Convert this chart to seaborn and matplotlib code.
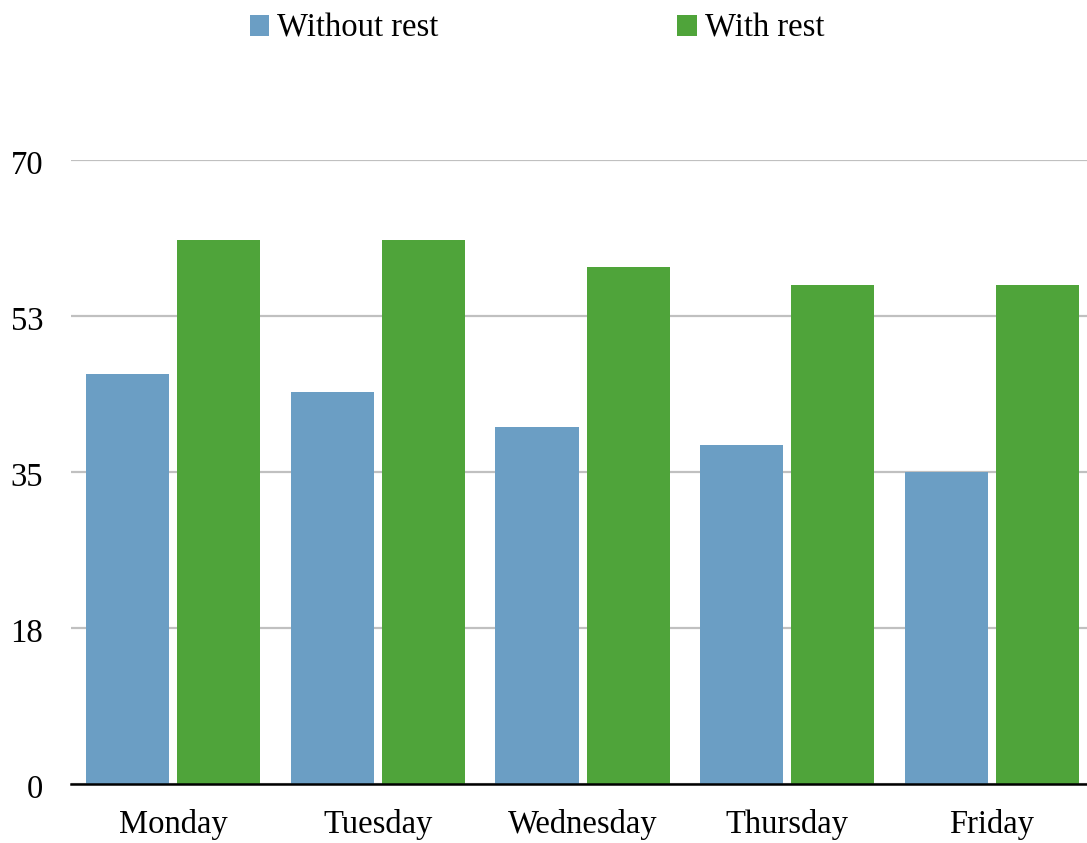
import matplotlib
matplotlib.use("Agg")
import matplotlib.pyplot as plt
import seaborn as sns
import pandas as pd
from matplotlib.patches import Patch

days = ["Monday", "Tuesday", "Wednesday", "Thursday", "Friday"]
series_names = ["Without rest", "With rest"]
without_rest = [46, 44, 40, 38, 35]
with_rest = [61, 61, 58, 56, 56]
ytick_values = [0, 17.5, 35, 52.5, 70]
ytick_labels = ["0", "18", "35", "53", "70"]
colors = ["#6b9ec4", "#4fa43a"]

df = pd.DataFrame({
    "day": days * 2,
    "series": [series_names[0]] * len(days) + [series_names[1]] * len(days),
    "value": without_rest + with_rest,
})

sns.set_theme(style="white")
plt.rcParams["font.family"] = ["Liberation Serif", "DejaVu Serif"]
plt.rcParams["text.color"] = "black"

W, H = 1087, 843
fig = plt.figure(figsize=(W / 100, H / 100), dpi=100)
left_px, right_px, bottom_px, top_px = 71, 1087, 784, 160
ax = fig.add_axes([left_px / W, (H - bottom_px) / H,
                   (right_px - left_px) / W, (bottom_px - top_px) / H])

sns.barplot(data=df, x="day", y="value", hue="series", order=days,
            hue_order=series_names, palette=colors, width=0.89, gap=0.088,
            saturation=1, legend=False, linewidth=0, edgecolor="none", ax=ax)

ax.set_ylim(0, 70)
ax.set_xlim(-0.5, 4.5 - (1094 - 1087) / 204.0)
ax.set_yticks(ytick_values)
ax.set_yticklabels(ytick_labels)
ax.set_xlabel("")
ax.set_ylabel("")
ax.grid(axis="y", color="#c0c0c0", linewidth=1.6)
ax.set_axisbelow(True)
for s in ["left", "right", "top"]:
    ax.spines[s].set_visible(False)
ax.spines["bottom"].set_color("black")
ax.spines["bottom"].set_linewidth(1.8)
ax.spines["bottom"].set_zorder(5)
ax.tick_params(axis="both", length=0, labelsize=23.5, colors="black")
ax.tick_params(axis="y", pad=20)
ax.tick_params(axis="x", pad=18)
for lbl in ax.get_yticklabels():
    lbl.set_transform(lbl.get_transform() + matplotlib.transforms.ScaledTranslation(0, -2 / 100, fig.dpi_scale_trans))

handles = [Patch(facecolor=c, edgecolor="none") for c in colors]
fig.legend(handles, series_names, loc="upper center", ncol=2,
           bbox_to_anchor=(537 / W, 1.0 + 16 / H), frameon=False, fontsize=23.5,
           handlelength=0.6, handleheight=0.6, handletextpad=0.25,
           columnspacing=7.3, labelcolor="black")

fig.savefig("out.png", dpi=100)
